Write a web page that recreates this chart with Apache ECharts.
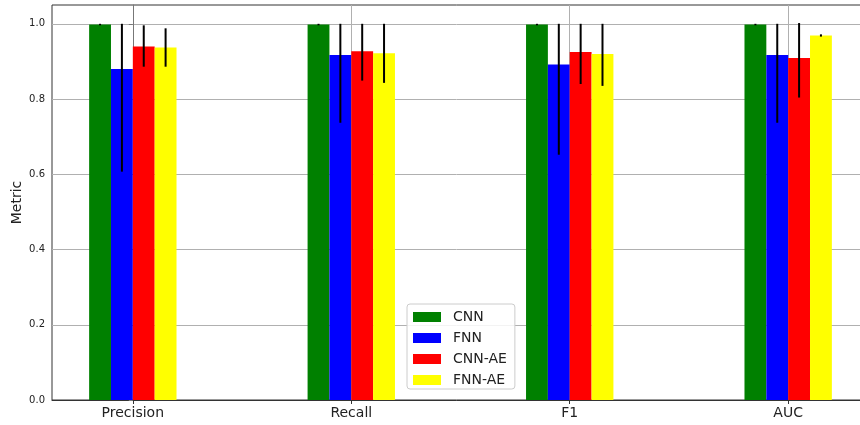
<!DOCTYPE html>
<html>
<head>
<meta charset="utf-8">
<script src="https://cdn.jsdelivr.net/npm/echarts@6/dist/echarts.min.js"></script>
<style>
  html, body { margin: 0; padding: 0; background: #fff; }
  #chart { width: 860px; height: 425px; }
</style>
</head>
<body>
<div id="chart"></div>
<script>
// Metric names along the x axis
const categories = ['Precision', 'Recall', 'F1', 'AUC'];
const models = ['CNN', 'FNN', 'CNN-AE', 'FNN-AE'];

// Mean score per model and metric
const cnnValues   = [0.998, 0.998, 0.998, 0.998];
const fnnValues   = [0.880, 0.917, 0.892, 0.917];
const cnnAeValues = [0.940, 0.927, 0.925, 0.909];
const fnnAeValues = [0.937, 0.922, 0.920, 0.969];

// Error bar lower / upper ends
const cnnLow    = [0.996, 0.996, 0.996, 0.996];
const cnnHigh   = [1.000, 1.000, 1.000, 1.000];
const fnnLow    = [0.607, 0.737, 0.652, 0.737];
const fnnHigh   = [1.000, 1.000, 1.000, 1.000];
const cnnAeLow  = [0.886, 0.849, 0.840, 0.804];
const cnnAeHigh = [0.996, 1.000, 1.000, 1.002];
const fnnAeLow  = [0.886, 0.843, 0.835, 0.966];
const fnnAeHigh = [0.988, 1.000, 1.000, 0.972];

// Y axis tick values
const yTicks = [0, 0.2, 0.4, 0.6, 0.8, 1.0];

const colors = ['#008000', '#0000ff', '#ff0000', '#ffff00'];
const BAR_W = 0.1;
const offsets = [-0.15, -0.05, 0.05, 0.15];
const FONT = 'DejaVu Sans';

const valueSets = [cnnValues, fnnValues, cnnAeValues, fnnAeValues];
const lowSets = [cnnLow, fnnLow, cnnAeLow, fnnAeLow];
const highSets = [cnnHigh, fnnHigh, cnnAeHigh, fnnAeHigh];

function barRenderer(offset) {
  return function (params, api) {
    const x = api.value(0);
    const v = api.value(1);
    const p0 = api.coord([x + offset - BAR_W / 2, v]);
    const p1 = api.coord([x + offset + BAR_W / 2, 0]);
    return {
      type: 'rect',
      shape: { x: p0[0], y: p0[1], width: p1[0] - p0[0], height: p1[1] - p0[1] },
      style: { fill: api.visual('color') }
    };
  };
}

function errRenderer(offset) {
  return function (params, api) {
    const x = api.value(0) + offset;
    const a = api.coord([x, api.value(1)]);
    const b = api.coord([x, api.value(2)]);
    return {
      type: 'line',
      shape: { x1: a[0], y1: a[1], x2: b[0], y2: b[1] },
      style: { stroke: '#000', lineWidth: 2 }
    };
  };
}

const series = [];
models.forEach((name, i) => {
  series.push({
    name: name,
    type: 'custom',
    renderItem: barRenderer(offsets[i]),
    itemStyle: { color: colors[i] },
    encode: { x: 0, y: 1 },
    data: categories.map((c, k) => [k, valueSets[i][k]]),
    z: 2
  });
});
models.forEach((name, i) => {
  series.push({
    name: name + ' err',
    type: 'custom',
    renderItem: errRenderer(offsets[i]),
    encode: { x: 0, y: [1, 2] },
    data: categories.map((c, k) => [k, lowSets[i][k], highSets[i][k]]),
    z: 3
  });
});

const chart = echarts.init(document.getElementById('chart'), null, { renderer: 'canvas' });
chart.setOption({
  animation: false,
  backgroundColor: '#fff',
  textStyle: { fontFamily: FONT },
  grid: {
    left: 52, top: 5, width: 817, height: 395,
    outerBoundsMode: 'none',
    containLabel: false,
    show: true, borderColor: '#333', borderWidth: 1, backgroundColor: 'transparent'
  },
  legend: {
    data: models,
    orient: 'vertical',
    left: 407, top: 304,
    icon: 'rect',
    itemWidth: 28, itemHeight: 10, itemGap: 7,
    padding: [6, 8, 2, 6],
    borderColor: '#cccccc', borderWidth: 1, borderRadius: 3,
    backgroundColor: 'rgba(255,255,255,0.85)',
    textStyle: { fontSize: 14, color: '#222', fontFamily: FONT, padding: [0, 0, 0, 7] }
  },
  xAxis: {
    type: 'value',
    min: -0.37, max: 3.37,
    axisLine: { show: true, lineStyle: { color: '#333', width: 1 } },
    axisTick: { show: true, length: 4, customValues: [0, 1, 2, 3], lineStyle: { color: '#333' } },
    axisLabel: {
      customValues: [0, 1, 2, 3],
      formatter: v => categories[Math.round(v)],
      fontSize: 14, color: '#222', margin: 6, fontFamily: FONT
    },
    splitLine: { show: true, lineStyle: { color: '#b0b0b0', width: 1 } }
  },
  yAxis: {
    type: 'value',
    min: 0, max: 1.05,
    name: 'Metric',
    nameLocation: 'middle',
    nameGap: 28,
    nameMoveOverlap: false,
    nameTextStyle: { fontSize: 14, color: '#222', fontFamily: FONT },
    axisLine: { show: true, lineStyle: { color: '#777', width: 1 } },
    axisTick: { show: true, length: 4, customValues: yTicks, lineStyle: { color: '#777' } },
    axisLabel: {
      customValues: yTicks,
      formatter: v => v.toFixed(1),
      fontSize: 10, color: '#222', margin: 7, fontFamily: FONT
    },
    splitLine: { show: true, lineStyle: { color: '#b0b0b0', width: 1 } }
  },
  series: series
});
</script>
</body>
</html>
